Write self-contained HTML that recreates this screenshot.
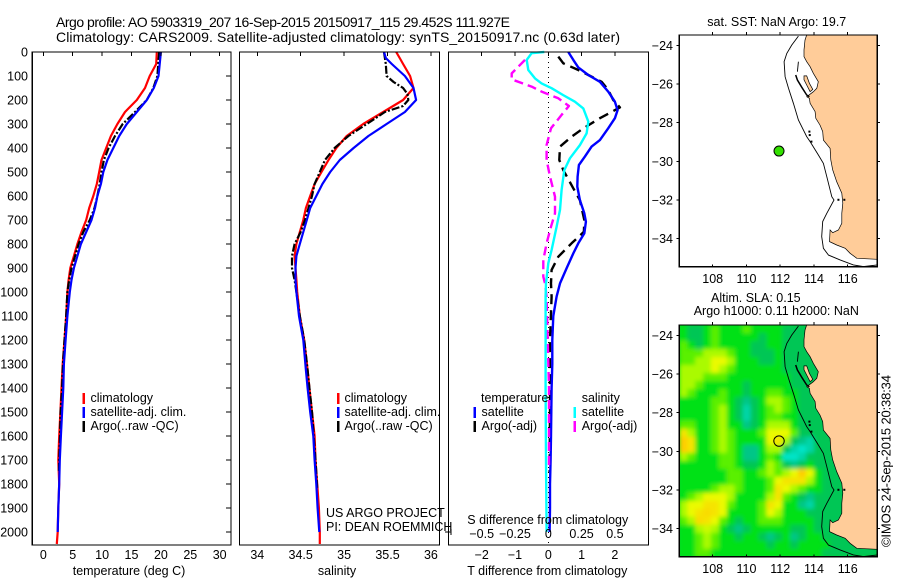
<!DOCTYPE html>
<html>
<head>
<meta charset="utf-8">
<title>Argo profile</title>
<style>
html,body{margin:0;padding:0;background:#fff;width:900px;height:580px;overflow:hidden}
svg{display:block}
text{font-family:"Liberation Sans",sans-serif;font-size:12.5px;fill:#000}
</style>
</head>
<body>
<svg id="chart" width="900" height="580" viewBox="0 0 900 580" xmlns="http://www.w3.org/2000/svg">
<defs>
<filter id="smooth" x="-10%" y="-10%" width="120%" height="120%"><feGaussianBlur stdDeviation="2"/></filter>
<clipPath id="clip-map1"><rect x="679.3" y="35" width="198" height="231.7"/></clipPath>
<clipPath id="clip-map2"><rect x="679.3" y="325" width="198" height="231.7"/></clipPath>
</defs>
<text x="56" y="27" textLength="454" style="font-size:14px">Argo profile: AO 5903319_207 16-Sep-2015 20150917_115 29.452S 111.927E</text>
<text x="56" y="42" textLength="564" style="font-size:14px">Climatology: CARS2009. Satellite-adjusted climatology: synTS_20150917.nc (0.63d later)</text>
<g id="plots"></g>
<text transform="translate(890.5,547) rotate(-90)" textLength="172" style="font-size:13px">©IMOS 24-Sep-2015 20:38:34</text>
</svg>
<script>
// ---- temperature panel data (depth in dbar, temperature in deg C)
const tempClimDepth = [0,50,100,150,200,250,300,350,400,450,500,550,600,650,700,750,800,850,900,950,1000,1100,1200,1300,1400,1500,1600,1700,1800,1900,2000,2050];
const tempClim = [19.3,19.2,18.1,17.3,15.9,13.9,12.6,11.5,10.7,9.9,9.5,9.1,8.5,7.8,7.3,6.5,5.8,5.2,4.6,4.3,4.1,3.9,3.6,3.3,3.1,2.9,2.7,2.55,2.7,2.55,2.45,2.3];
const tempSatDepth = [0,50,100,150,200,250,300,350,400,450,500,550,600,650,700,750,800,850,900,950,1000,1100,1200,1300,1400,1500,1600,1700,1800,1900,2000];
const tempSat = [20,19.8,19.6,18.8,17.6,15.9,14.2,12.9,11.9,10.9,10.2,9.8,9.2,8.8,8.2,7.3,6.4,5.8,5.2,4.8,4.5,4.1,3.8,3.5,3.4,3.2,3,2.8,2.7,2.55,2.45];
const tempArgoDepth = [0,100,150,200,250,300,350,400,450,500,550,600,650,700,750,800,850,900,950,1000,1100,1200,1300,1400,1500,1600,1700,1750];
const tempArgo = [19.7,19.4,18.7,17.6,15.6,13.5,12.2,11.1,10.3,9.9,9.6,9.2,8.7,7.9,6.8,6,5.4,4.8,4.4,4.1,3.9,3.6,3.35,3.2,2.95,2.85,2.7,2.65];
// ---- salinity panel data
const salClimDepth = [0,25,50,100,150,200,250,300,350,400,450,500,550,600,650,700,750,800,850,900,950,1000,1100,1200,1325,1400,1500,1600,1700,1800,1900,2000,2050];
const salClim = [35.6,35.64,35.68,35.76,35.8,35.68,35.45,35.22,35.03,34.91,34.82,34.74,34.66,34.61,34.56,34.53,34.49,34.45,34.43,34.44,34.45,34.46,34.49,34.54,34.58,34.6,34.63,34.66,34.67,34.69,34.71,34.72,34.72];
const salSatDepth = [0,25,50,100,150,200,250,300,350,400,450,500,550,600,650,700,750,800,850,900,950,1000,1100,1200,1325,1400,1500,1600,1700,1800,1900,2000];
const salSat = [35.46,35.48,35.55,35.7,35.8,35.83,35.7,35.49,35.28,35.11,34.95,34.84,34.75,34.68,34.61,34.57,34.53,34.49,34.45,34.44,34.44,34.45,34.48,34.53,34.56,34.58,34.61,34.645,34.66,34.68,34.695,34.714];
const salArgoDepth = [0,50,100,125,150,175,200,225,250,300,350,400,450,500,550,600,650,700,750,800,850,900,950,1000,1100,1200,1325,1400,1500,1600,1700,1817];
const salArgo = [35.46,35.48,35.49,35.57,35.68,35.73,35.74,35.68,35.47,35.26,35.05,34.89,34.78,34.72,34.66,34.63,34.59,34.55,34.5,34.43,34.4,34.4,34.43,34.45,34.49,34.54,34.58,34.6,34.63,34.65,34.67,34.69];
// ---- difference panel data
const dTSatDepth = [0,33,64,96,124,165,207,242,276,318,367,394,436,471,519,561,617,672,707,756,797,839,901,964,1019,1100,1200,1300,1400,1500,1600,1700,1800,1900,2000];
const dTSat = [0.6,0.75,0.9,1.2,1.55,1.8,2,2.08,2,1.8,1.55,1.3,1.1,0.92,0.88,0.87,0.95,1.08,1.13,1.08,0.9,0.75,0.55,0.35,0.25,0.15,0.12,0.12,0.1,0.09,0.08,0.07,0.05,0.05,0.04];
const dTArgoDepth = [19,47,75,96,124,158,200,231,276,318,353,394,450,492,568,617,700,749,797,853,908,964,1019,1200,1500,1750];
const dTArgo = [0.3,0.45,0.9,1.2,1.6,1.8,1.95,2.15,1.55,1.05,0.7,0.35,0.33,0.45,0.75,0.95,1.08,1.07,0.7,0.3,0.1,0.08,0.1,0.05,0.05,0.04];
const dSSatDepth = [0,5,33,75,110,131,151,179,207,235,290,339,388,443,492,575,658,728,825,880,964,1019,1400,1700,2000];
const dSSat = [-0.03,-0.125,-0.1625,-0.15,-0.1,-0.05,0.025,0.11,0.2,0.2625,0.3,0.2875,0.2375,0.1625,0.12,0.1,0.0875,0.0625,0.025,0,-0.0175,-0.02,-0.02,-0.0175,-0.0125];
const dSArgoDepth = [33,89,114,144,165,193,225,262,318,388,450,519,603,672,728,797,867,936,964,1019,1400,1740];
const dSArgo = [-0.175,-0.275,-0.275,-0.125,-0.05,0.075,0.155,0.1,0.02,-0.0125,-0.0125,0.0125,0.05,0.05,0.02,-0.0125,-0.0375,-0.0375,-0.025,-0.0125,0.005,0.005];
// ---- tick labels
const depthTicks = [0,100,200,300,400,500,600,700,800,900,1000,1100,1200,1300,1400,1500,1600,1700,1800,1900,2000];
const tempTicks = [0,5,10,15,20,25,30];
const salTicks = [34,34.5,35,35.5,36];
const dTTicks = [-2,-1,0,1,2];
const dSTicks = [-0.5,-0.25,0,0.25,0.5];
const lonTicks = [108,110,112,114,116];
const latTicks = [-24,-26,-28,-30,-32,-34];
// ---- map geometry in lon/lat
const argoLon = 111.93;
const argoLat = -29.47;
const coastLon = [113.57,113.47,113.41,113.41,113.57,113.77,113.97,114.26,114.17,113.97,113.57,113.73,113.77,114.07,114.11,114.36,114.52,114.56,114.96,115,115.11,115.35,115.65,115.71,115.65,115.65,115.45,115.11,114.96,114.92,115.35,115.85,116.14,116.54,117.76];
const coastLat = [-23.44,-23.71,-24.22,-24.57,-24.83,-25.09,-25.44,-25.87,-26.21,-26.39,-26.65,-26.73,-26.99,-27.42,-27.77,-28.12,-28.46,-28.9,-29.33,-29.93,-30.45,-31.06,-31.66,-32.18,-32.7,-33.22,-33.57,-33.71,-33.57,-34.17,-34.35,-34.52,-34.78,-35.04,-35.09];
const contourLon = [113.08,112.68,112.39,112.23,112.29,112.49,112.78,113.08,113.57,113.77,114.26,114.56,114.76,115.06,115.19,114.76,114.52,114.46,114.56,114.86,115.55,116.34,116.93,117.76];
const contourLat = [-23.5,-23.97,-24.4,-24.83,-25.61,-26.21,-26.99,-27.86,-28.72,-28.98,-29.67,-30.11,-30.8,-31.84,-32.01,-32.7,-33.13,-33.91,-34.52,-34.87,-35.12,-35.38,-35.47,-35.38];
const peronLon = [113.41,113.57,113.73,113.93,113.77,113.57,113.41];
const peronLat = [-25.57,-25.57,-25.95,-26.27,-26.39,-26.04,-25.77];
const isleLon = [112.92,113.02,113.28,113.57,113.73];
const isleLat = [-25.52,-25.78,-26.16,-26.56,-26.65];
const bayLon = [113.08,113.02];
const bayLat = [-24.83,-25.35];
const dotLon = [113.73,113.75,113.85,115.45,115.8];
const dotLat = [-28.46,-28.64,-28.98,-32.0,-32.0];
// ---- sea level anomaly grid, one row per 8 px (north to south), colour class 0 (cyan) to 7 (orange)
const slaRow00 = [3,2,2,3,4,3,3,3,4,3,3,3,3,2,2,2,2,2,2,2,2,2,2,2,2];
const slaRow01 = [3,2,2,3,4,3,3,3,3,3,2,3,3,2,2,2,2,2,2,2,2,2,2,2,2];
const slaRow02 = [4,3,2,3,4,3,3,3,3,2,2,3,3,2,2,2,2,2,2,2,2,2,2,2,2];
const slaRow03 = [4,4,4,5,5,5,4,3,3,2,2,2,3,2,2,2,2,2,2,2,2,2,2,2,2];
const slaRow04 = [4,4,5,5,6,6,5,3,3,3,2,2,3,2,2,2,2,2,2,2,2,2,2,2,2];
const slaRow05 = [5,5,5,5,6,5,4,3,3,3,3,3,3,2,2,2,2,2,2,2,2,2,2,2,2];
const slaRow06 = [5,5,5,4,4,4,3,3,3,3,3,3,3,3,2,2,2,2,2,2,2,2,2,2,2];
const slaRow07 = [5,5,4,3,3,3,3,3,2,3,3,3,3,3,2,2,2,2,2,2,2,2,2,2,2];
const slaRow08 = [5,4,3,3,3,4,3,3,2,3,3,4,4,3,3,2,2,2,2,2,2,2,2,2,2];
const slaRow09 = [3,3,3,3,4,4,3,2,1,2,3,5,5,4,3,2,2,2,2,2,2,2,2,2,2];
const slaRow10 = [3,3,3,3,4,5,3,2,0.5,2,3,4,5,4,3,2,2,2,2,2,2,2,2,2,2];
const slaRow11 = [3,3,3,3,4,5,3,2,0.5,2,3,4,4,3,3,2,2,2,2,2,2,2,2,2,2];
const slaRow12 = [4,4,3,3,4,5,3,3,1,2,3,5,5,5,3,2,2,2,2,2,2,2,2,2,2];
const slaRow13 = [6.5,5,3,3,4,5,4,3,3,3,4,6,6,6,4,2,2,2,2,2,2,2,2,2,2];
const slaRow14 = [7,6.5,3,3,4,5,4,3,3,3,3,6,6.5,5,2,1,0.5,2,2,2,2,2,2,2,2];
const slaRow15 = [7,6.5,3,3,4,5,4,3,1,1,3,5,5,2,0.5,0,0.5,2,2,2,2,2,2,2,2];
const slaRow16 = [5,4,3,3,3,4,4,3,1,1,3,4,3,0,0,0.5,2,2,2,2,2,2,2,2,2];
const slaRow17 = [3,3,3,3,3,4,4,3,2,2,3,5,4,2,1,2,3,2,2,2,2,2,2,2,2];
const slaRow18 = [3,3,3,3,3,3,4,4,3,3,4,5,4,5,6,7,6,3,2,2,2,2,2,2,2];
const slaRow19 = [3,3,3,3,3,3,4,4,3,3,3,4,6,6.5,6.5,6.5,5,3,2,2,2,2,2,2,2];
const slaRow20 = [3,3,3,3,4,5,5,4,3,3,3,4,6.5,6,5,4,3,3,2,2,2,2,2,2,2];
const slaRow21 = [3,4,5,6,6,6,5,3,3,3,3,5,6.5,4,3,2,1,2,2,2,2,2,2,2,2];
const slaRow22 = [5,6,6,6.5,6.5,6,4,3,3,3,4,6.5,6,3,3,1,0.5,2,2,2,2,2,2,2,2];
const slaRow23 = [5,6,6.5,6.7,6.5,6,3,3,3,3,4,6,5,3,3,3,2,2,2,2,2,2,2,2,2];
const slaRow24 = [4,5,6.7,6.5,6,4,3,2,3,3,4,4,4,3,3,3,3,2,2,2,2,2,2,2,2];
const slaRow25 = [3,3,5,5.5,5,3,2,1,2,3,3,3,3,3,2,2,3,2,2,2,2,2,2,2,2];
const slaRow26 = [3,3,4,5,4,3,3,2,3,3,2,1,2,3,1,2,3,3,2,2,2,2,2,2,2];
const slaRow27 = [3,3,4,5,4,3,3,3,3,3,3,2,3,3,2,3,3,3,3,2,2,2,2,2,2];
const slaRow28 = [3,3,4,4,3,3,3,3,3,3,3,3,3,3,3,3,3,3,2,2,2,2,2,2,2];
const slaGrid = [slaRow00,slaRow01,slaRow02,slaRow03,slaRow04,slaRow05,slaRow06,slaRow07,slaRow08,slaRow09,slaRow10,slaRow11,slaRow12,slaRow13,slaRow14,slaRow15,slaRow16,slaRow17,slaRow18,slaRow19,slaRow20,slaRow21,slaRow22,slaRow23,slaRow24,slaRow25,slaRow26,slaRow27,slaRow28];
const slaColours = [[0,228,200],[0,198,135],[0,198,85],[0,225,20],[90,240,0],[170,250,0],[235,250,0],[255,205,0]];

// ---- axis functions
const NS = 'http://www.w3.org/2000/svg';
const root = document.getElementById('plots');
const yDepth = d => 52 + 0.24 * d;
const xTemp = t => 43.3 + 5.88 * t;
const xSal = s => 257.3 + 86.8 * (s - 34);
const xDT = t => 548.3 + 33.3 * t;
const xDS = s => 548.3 + 133.2 * s;
const xLon = lon => 712.7 + 16.875 * (lon - 108);
const yLat1 = lat => 45.7 + 19.26 * (-24 - lat);
const yLat2 = lat => 335.7 + 19.26 * (-24 - lat);

function mk(tag, attrs, parent) {
  const el = document.createElementNS(NS, tag);
  for (const k in attrs) el.setAttribute(k, attrs[k]);
  (parent || root).appendChild(el);
  return el;
}
function label(str, x, y, anchor, name, parent) {
  const el = mk('text', {x: x, y: y, 'text-anchor': anchor || 'start'}, parent);
  el.textContent = str;
  
  
  return el;
}
function hair(x1, y1, x2, y2, name, parent) {
  const el = mk('line', {x1: x1, y1: y1, x2: x2, y2: y2, stroke: '#000', 'stroke-width': 1, 'shape-rendering': 'crispEdges'}, parent);
  
  
  return el;
}
function frame(x, y, w, h, name) {
  const el = mk('rect', {x: x, y: y, width: w, height: h, fill: 'none', stroke: '#000', 'stroke-width': 1.2, 'shape-rendering': 'crispEdges'});
  
  
  return el;
}
function profile(xs, depths, xFn, colour, dash, width, name) {
  const pts = xs.map((v, i) => xFn(v).toFixed(1) + ',' + yDepth(depths[i]).toFixed(1)).join(' ');
  const el = mk('polyline', {points: pts, fill: 'none', stroke: colour, 'stroke-width': width, 'stroke-dasharray': dash || 'none', 'stroke-linejoin': 'round'});
  
  
  return el;
}
function legendBar(x, y, colour, name) {
  const el = mk('rect', {x: x, y: y, width: 2.4, height: 11, fill: colour, 'shape-rendering': 'crispEdges'});
  
  
  return el;
}
const fmtTick = v => String(v).replace('-', '\u2212');

// ---- temperature panel
profile(tempClim, tempClimDepth, xTemp, '#f00', null, 2.2, 'temperature-climatology-line');
profile(tempArgo, tempArgoDepth, xTemp, '#000', '8 2 2 2', 2.2, 'temperature-argo-line');
profile(tempSat, tempSatDepth, xTemp, '#00f', null, 2.2, 'temperature-satellite-line');
frame(32.3, 52, 198.7, 493, 'temperature-plot-frame');
depthTicks.forEach(d => {
  label(String(d), 28, yDepth(d) + 4.5, 'end', 'depth-tick-label');
  hair(226, yDepth(d), 231, yDepth(d), 'depth-tick');
});
tempTicks.forEach(t => {
  label(String(t), xTemp(t), 559, 'middle', 'temperature-tick-label');
  hair(xTemp(t), 52, xTemp(t), 56, 'temperature-tick');
});
label('temperature (deg C)', 129, 575, 'middle', 'temperature-axis-title');
legendBar(82.5, 393, '#f00', 'legend-climatology-swatch');
legendBar(82.5, 407, '#00f', 'legend-satellite-swatch');
legendBar(82.5, 421, '#000', 'legend-argo-swatch');
label('climatology', 90.5, 402, 'start', 'legend-climatology-label');
label('satellite-adj. clim.', 90.5, 416, 'start', 'legend-satellite-label');
label('Argo(..raw -QC)', 90.5, 430, 'start', 'legend-argo-label');

// ---- salinity panel
profile(salClim, salClimDepth, xSal, '#f00', null, 2.2, 'salinity-climatology-line');
profile(salArgo, salArgoDepth, xSal, '#000', '8 2 2 2', 2.2, 'salinity-argo-line');
profile(salSat, salSatDepth, xSal, '#00f', null, 2.2, 'salinity-satellite-line');
frame(239.4, 52, 200, 493, 'salinity-plot-frame');
salTicks.forEach(s => {
  label(String(s), xSal(s), 559, 'middle', 'salinity-tick-label');
  hair(xSal(s), 52, xSal(s), 56, 'salinity-tick');
});
label('salinity', 337, 575, 'middle', 'salinity-axis-title');
legendBar(337, 393, '#f00', 'legend-climatology-swatch');
legendBar(337, 407, '#00f', 'legend-satellite-swatch');
legendBar(337, 421, '#000', 'legend-argo-swatch');
label('climatology', 344.5, 402, 'start', 'legend-climatology-label');
label('satellite-adj. clim.', 344.5, 416, 'start', 'legend-satellite-label');
label('Argo(..raw -QC)', 344.5, 430, 'start', 'legend-argo-label');
label('US ARGO PROJECT', 326, 517, 'start', 'project-credit');
label('PI: DEAN ROEMMICH', 326, 531, 'start', 'pi-credit');

// ---- difference panel
const zeroLine = mk('line', {x1: xDT(0), y1: 52, x2: xDT(0), y2: 545, stroke: '#000', 'stroke-width': 1, 'stroke-dasharray': '1 4', 'shape-rendering': 'crispEdges'});


profile(dTArgo, dTArgoDepth, xDT, '#000', '10 6', 2.4, 'temperature-difference-argo-line');
profile(dTSat, dTSatDepth, xDT, '#00f', null, 2.4, 'temperature-difference-satellite-line');
profile(dSArgo, dSArgoDepth, xDS, '#f0f', '9 5', 2.4, 'salinity-difference-argo-line');
profile(dSSat, dSSatDepth, xDS, '#0ff', null, 2.4, 'salinity-difference-satellite-line');
frame(448.4, 52, 200, 493, 'difference-plot-frame');
dTTicks.forEach(t => {
  label(fmtTick(t), xDT(t), 559, 'middle', 'temperature-difference-tick-label');
  hair(xDT(t), 52, xDT(t), 56, 'difference-tick');
});
dSTicks.forEach(s => {
  label(fmtTick(s), xDS(s), 538, 'middle', 'salinity-difference-tick-label');
});
hair(445, yDepth(2000), 451, yDepth(2000), 'depth-2000-marker');
hair(451, yDepth(2000) - 3, 451, yDepth(2000) + 3, 'depth-2000-marker-cap');
label('S difference from climatology', 467.3, 524, 'start', 'salinity-difference-axis-title');
label('T difference from climatology', 467.3, 575, 'start', 'temperature-difference-axis-title');
label('temperature', 481, 402, 'start', 'legend-temperature-heading');
label('salinity', 581.7, 402, 'start', 'legend-salinity-heading');
legendBar(473.5, 407, '#00f', 'legend-temperature-satellite-swatch');
legendBar(473.5, 421, '#000', 'legend-temperature-argo-swatch');
legendBar(573.5, 407, '#0ff', 'legend-salinity-satellite-swatch');
legendBar(573.5, 421, '#f0f', 'legend-salinity-argo-swatch');
label('satellite', 481.5, 416, 'start', 'legend-temperature-satellite-label');
label('Argo(-adj)', 481.5, 430, 'start', 'legend-temperature-argo-label');
label('satellite', 581.7, 416, 'start', 'legend-salinity-satellite-label');
label('Argo(-adj)', 581.7, 430, 'start', 'legend-salinity-argo-label');

// ---- maps
function mapPath(lons, lats, yFn, close) {
  return lons.map((lo, i) => (i ? 'L' : 'M') + xLon(lo).toFixed(1) + ' ' + yFn(lats[i]).toFixed(1)).join(' ') + (close ? ' Z' : '');
}
function drawGeography(g, yFn) {
  const landD = mapPath(coastLon, coastLat, yFn, false) + ' L' + (xLon(117.76) + 4) + ' ' + yFn(-35.09).toFixed(1) + ' L' + (xLon(117.76) + 4) + ' ' + yFn(-23.2).toFixed(1) + ' L' + xLon(113.57).toFixed(1) + ' ' + yFn(-23.2).toFixed(1) + ' Z';
  const land = mk('path', {d: landD, fill: '#ffcc99', stroke: '#000', 'stroke-width': 0.7}, g);
  
  
  const contour = mk('path', {d: mapPath(contourLon, contourLat, yFn, false), fill: 'none', stroke: '#000', 'stroke-width': 0.9}, g);
  
  
  const peron = mk('path', {d: mapPath(peronLon, peronLat, yFn, true), fill: '#ffcc99', stroke: '#000', 'stroke-width': 0.7}, g);
  
  
  const isle = mk('path', {d: mapPath(isleLon, isleLat, yFn, false), fill: 'none', stroke: '#000', 'stroke-width': 1.5}, g);
  
  
  const bay = mk('path', {d: mapPath(bayLon, bayLat, yFn, false), fill: 'none', stroke: '#000', 'stroke-width': 0.9}, g);
  
  
  dotLon.forEach((lo, i) => {
    const dot = mk('rect', {x: xLon(lo) - 1, y: yFn(dotLat[i]) - 1, width: 2, height: 2, fill: '#000'}, g);
    
    
  });
}
function mapAxes(top, yFn, prefix) {
  const bottom = top + 231.7;
  frame(679.3, top, 198, 231.7, prefix + '-map-frame');
  lonTicks.forEach(lo => {
    label(String(lo), xLon(lo), bottom + 16.5, 'middle', prefix + '-longitude-tick-label');
    hair(xLon(lo), top - 3, xLon(lo), top, prefix + '-longitude-tick-top');
    hair(xLon(lo), bottom - 2, xLon(lo), bottom, prefix + '-longitude-tick-bottom');
  });
  latTicks.forEach(la => {
    label(fmtTick(la), 673, yFn(la) + 4.5, 'end', prefix + '-latitude-tick-label');
    hair(676.5, yFn(la), 679.3, yFn(la), prefix + '-latitude-tick-left');
    hair(877.3, yFn(la), 880, yFn(la), prefix + '-latitude-tick-right');
  });
}
// top map
const map1 = mk('g', {'clip-path': 'url(#clip-map1)'});


drawGeography(map1, yLat1);
const marker1 = mk('circle', {cx: xLon(argoLon), cy: yLat1(argoLat), r: 5, fill: '#33e000', stroke: '#000', 'stroke-width': 1}, map1);


mapAxes(35, yLat1, 'sst');
label('sat. SST: NaN  Argo: 19.7', 707.3, 26, 'start', 'sst-map-title');

// bottom map
const map2 = mk('g', {'clip-path': 'url(#clip-map2)'});


const heatBase = mk('rect', {x: 679.3, y: 325, width: 198, height: 231.7, fill: 'rgb(0,215,40)'}, map2);


const heat = mk('g', {filter: 'url(#smooth)'}, map2);


function slaColour(v) {
  const lo = Math.max(0, Math.min(slaColours.length - 1, Math.floor(v)));
  const hi = Math.min(slaColours.length - 1, lo + 1);
  const f = Math.max(0, Math.min(1, v - lo));
  const c = slaColours[lo].map((a, i) => Math.round(a + (slaColours[hi][i] - a) * f));
  return 'rgb(' + c.join(',') + ')';
}
const cellW = 198 / slaGrid[0].length;
const cellH = 231.7 / slaGrid.length;
slaGrid.forEach((row, r) => {
  row.forEach((v, c) => {
    const cell = mk('rect', {x: 679.3 + c * cellW, y: 325 + r * cellH, width: cellW + 0.5, height: cellH + 0.5, fill: slaColour(v)}, heat);
    
    
  });
});
drawGeography(map2, yLat2);
const marker2 = mk('circle', {cx: xLon(argoLon), cy: yLat2(argoLat), r: 5.2, fill: 'none', stroke: '#000', 'stroke-width': 1}, map2);


mapAxes(325, yLat2, 'sla');
label('Altim. SLA: 0.15', 711, 302, 'start', 'sla-map-title');
label('Argo h1000: 0.11 h2000: NaN', 693.7, 315, 'start', 'sla-map-subtitle');
</script>
</body>
</html>
